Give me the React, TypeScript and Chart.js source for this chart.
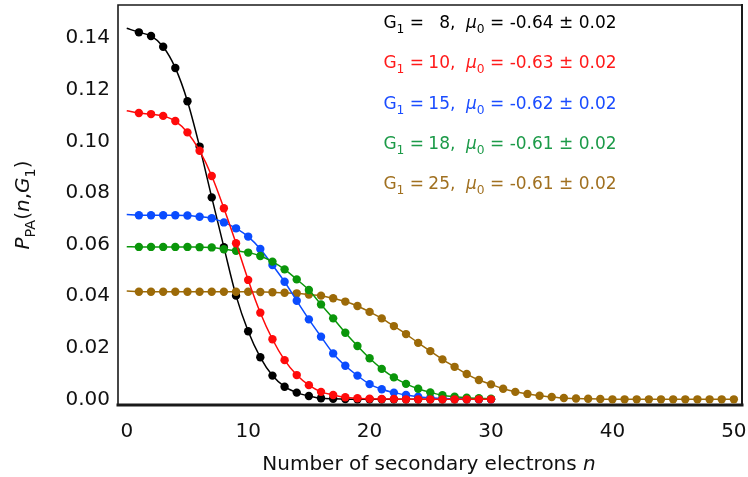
import React, { useEffect, useRef } from 'react';
import { Chart, registerables } from 'chart.js';

Chart.register(...registerables);

// ---- data ----
const xTicks = [0, 10, 20, 30, 40, 50];
const yTicks = [0, 0.02, 0.04, 0.06, 0.08, 0.1, 0.12, 0.14];

const g1Values = ['8', '10', '15', '18', '25'];
const mu0Values = ['-0.64', '-0.63', '-0.62', '-0.61', '-0.61'];
const mu0Error = '0.02';

// fitted curve value at n = 0 (line start), per series
const fitAtZero = [0.1439, 0.1119, 0.0717, 0.0592, 0.042];

// P_PA(n, G1) for n = 1, 2, 3, ...
const seriesG8 = [
  0.1423, 0.1409, 0.1367, 0.1285, 0.1156, 0.098, 0.0783, 0.059, 0.0402, 0.0264,
  0.0163, 0.0092, 0.0049, 0.0026, 0.0013, 0.0004, 0.0002, 0.0001, 0, 0,
  0, 0, 0, 0, 0, 0, 0, 0, 0, 0,
];
const seriesG10 = [
  0.111, 0.1106, 0.1099, 0.1079, 0.1035, 0.0964, 0.0866, 0.0741, 0.0605, 0.0463,
  0.0336, 0.0233, 0.0152, 0.0094, 0.0055, 0.0029, 0.0017, 0.0008, 0.0004, 0.0002,
  0.0001, 0.0001, 0, 0, 0, 0, 0, 0, 0, 0,
];
const seriesG15 = [
  0.0714, 0.0714, 0.0714, 0.0714, 0.0713, 0.0708, 0.0702, 0.0686, 0.0663, 0.0631,
  0.0583, 0.0521, 0.0456, 0.0382, 0.031, 0.0243, 0.0178, 0.013, 0.0092, 0.0059,
  0.0039, 0.0026, 0.0017, 0.001, 0.0006, 0.0003, 0.0002, 0.0001, 0, 0,
];
const seriesG18 = [
  0.0591, 0.0591, 0.0591, 0.0591, 0.0591, 0.059, 0.0589, 0.0582, 0.0576, 0.0569,
  0.0556, 0.0534, 0.0504, 0.0465, 0.0424, 0.0368, 0.0314, 0.0258, 0.0207, 0.0159,
  0.0118, 0.0085, 0.006, 0.0041, 0.0027, 0.0016, 0.001, 0.0006, 0.0004, 0.0002,
];
const seriesG25 = [
  0.0417, 0.0417, 0.0417, 0.0417, 0.0417, 0.0417, 0.0417, 0.0417, 0.0417, 0.0417,
  0.0416, 0.0415, 0.0413, 0.0411, 0.0406, 0.0402, 0.0392, 0.0379, 0.0362, 0.0339,
  0.0314, 0.0284, 0.0253, 0.0219, 0.0187, 0.0155, 0.0126, 0.0098, 0.0075, 0.0058,
  0.0041, 0.0029, 0.0021, 0.0014, 0.0009, 0.0005, 0.0003, 0.0002, 0.0001, 0,
  0, 0, 0, 0, 0, 0, 0, 0, 0, 0,
];

const allSeries = [seriesG8, seriesG10, seriesG15, seriesG18, seriesG25];
const pointColors = ['#000000', '#ff0a0a', '#0a4cff', '#0a960a', '#9c6a08'];
const textColors = ['#000000', '#ff1a1a', '#1a4cff', '#1c9a48', '#a07020'];
const drawOrder = [5, 1, 3, 2, 4];

const FONT = '"DejaVu Sans", Verdana, sans-serif';

type Seg = { t: string; it?: boolean; sub?: boolean };

function segFont(s: Seg, size: number) {
  const sz = s.sub ? size * 0.72 : size;
  return `${s.it ? 'italic ' : ''}${sz}px ${FONT}`;
}

function measureRich(ctx: CanvasRenderingContext2D, segs: Seg[], size: number) {
  let w = 0;
  for (const s of segs) {
    ctx.font = segFont(s, size);
    w += ctx.measureText(s.t).width;
  }
  return w;
}

function drawRich(
  ctx: CanvasRenderingContext2D,
  segs: Seg[],
  x: number,
  y: number,
  size: number,
  color: string,
  align: 'left' | 'center' | 'right' = 'left'
) {
  const w = measureRich(ctx, segs, size);
  let cx = align === 'left' ? x : align === 'center' ? x - w / 2 : x - w;
  ctx.fillStyle = color;
  ctx.textBaseline = 'alphabetic';
  ctx.textAlign = 'left';
  for (const s of segs) {
    ctx.font = segFont(s, size);
    ctx.fillText(s.t, cx, s.sub ? y + size * 0.3 : y);
    cx += ctx.measureText(s.t).width;
  }
}

const decorPlugin = {
  id: 'decor',
  beforeDatasetsDraw(chart: any) {
    const { ctx, chartArea } = chart;
    const { left, right, top, bottom } = chartArea;
    ctx.save();
    ctx.strokeStyle = '#1a1a1a';
    ctx.lineCap = 'square';
    ctx.lineWidth = 1.6;
    ctx.beginPath();
    ctx.moveTo(left, bottom);
    ctx.lineTo(left, top);
    ctx.lineTo(right, top);
    ctx.stroke();
    ctx.lineWidth = 2;
    ctx.beginPath();
    ctx.moveTo(right, top);
    ctx.lineTo(right, bottom);
    ctx.stroke();
    ctx.lineWidth = 3;
    ctx.beginPath();
    ctx.moveTo(left, bottom);
    ctx.lineTo(right, bottom);
    ctx.stroke();
    ctx.restore();
  },
  afterDraw(chart: any) {
    const { ctx } = chart;
    ctx.save();
    // annotations
    const size = 17;
    for (let i = 0; i < g1Values.length; i++) {
      const base = 28 + i * 40.3;
      const col = textColors[i];
      drawRich(ctx, [{ t: 'G' }, { t: '1', sub: true }, { t: ' =' }], 424, base, size, col, 'right');
      drawRich(ctx, [{ t: g1Values[i] }], 450, base, size, col, 'right');
      drawRich(ctx, [{ t: ',' }], 450, base, size, col, 'left');
      drawRich(
        ctx,
        [{ t: 'μ', it: true }, { t: '0', sub: true }, { t: ` = ${mu0Values[i]} ± ${mu0Error}` }],
        466,
        base,
        size,
        col,
        'left'
      );
    }
    // x title
    drawRich(
      ctx,
      [{ t: 'Number of secondary electrons ' }, { t: 'n', it: true }],
      429,
      470,
      20,
      '#111',
      'center'
    );
    // y title
    ctx.translate(29, 205);
    ctx.rotate(-Math.PI / 2);
    drawRich(
      ctx,
      [
        { t: 'P', it: true },
        { t: 'PA', sub: true },
        { t: '(' },
        { t: 'n', it: true },
        { t: ',' },
        { t: 'G', it: true },
        { t: '1', sub: true },
        { t: ')' },
      ],
      0,
      0,
      20,
      '#111',
      'center'
    );
    ctx.restore();
  },
};

export default function App() {
  const ref = useRef<HTMLCanvasElement>(null);

  useEffect(() => {
    if (!ref.current) return;
    const datasets = allSeries.map((vals, i) => ({
      label: `G1 = ${g1Values[i]}`,
      data: [{ x: 0, y: fitAtZero[i] }, ...vals.map((v, k) => ({ x: k + 1, y: v }))],
      showLine: true,
      borderColor: pointColors[i],
      backgroundColor: pointColors[i],
      pointBackgroundColor: pointColors[i],
      pointBorderColor: pointColors[i],
      borderWidth: 1.5,
      pointBorderWidth: 0,
      pointRadius: (c: any) => (c.raw && c.raw.x === 0 ? 0 : 4.2),
      pointHoverRadius: 4.2,
      cubicInterpolationMode: 'monotone' as const,
      order: drawOrder[i],
      clip: false as any,
    }));

    const chart = new Chart(ref.current, {
      type: 'scatter',
      data: { datasets },
      options: {
        animation: false,
        responsive: false,
        devicePixelRatio: 1,
        layout: { padding: { top: 5, right: 6, left: 0, bottom: 0 } },
        plugins: {
          legend: { display: false },
          tooltip: { enabled: false },
        },
        scales: {
          x: {
            type: 'linear',
            min: -0.72,
            max: 50.67,
            grid: { display: false, drawTicks: false },
            border: { display: false },
            afterBuildTicks: (s: any) => {
              s.ticks = xTicks.map((v) => ({ value: v }));
            },
            afterFit: (s: any) => {
              s.height = 72;
              s.paddingLeft = 0;
              s.paddingRight = 0;
            },
            ticks: {
              padding: 15,
              color: '#111',
              font: { family: FONT, size: 20 },
              maxRotation: 0,
              autoSkip: false,
              callback: (v: any) => String(v),
            },
          },
          y: {
            type: 'linear',
            min: -0.0022,
            max: 0.1529,
            grid: { display: false, drawTicks: false },
            border: { display: false },
            afterBuildTicks: (s: any) => {
              s.ticks = yTicks.map((v) => ({ value: v }));
            },
            afterFit: (s: any) => {
              s.width = 118;
              s.paddingTop = 0;
              s.paddingBottom = 0;
            },
            ticks: {
              padding: 8,
              color: '#111',
              font: { family: FONT, size: 20 },
              autoSkip: false,
              callback: (v: any) => Number(v).toFixed(2),
            },
          },
        },
      },
      plugins: [decorPlugin],
    });
    return () => chart.destroy();
  }, []);

  return (
    <div style={{ position: 'absolute', left: 0, top: 0, width: 748, height: 477, background: '#fff' }}>
      <canvas ref={ref} width={748} height={477} style={{ width: 748, height: 477, display: 'block' }} />
    </div>
  );
}
